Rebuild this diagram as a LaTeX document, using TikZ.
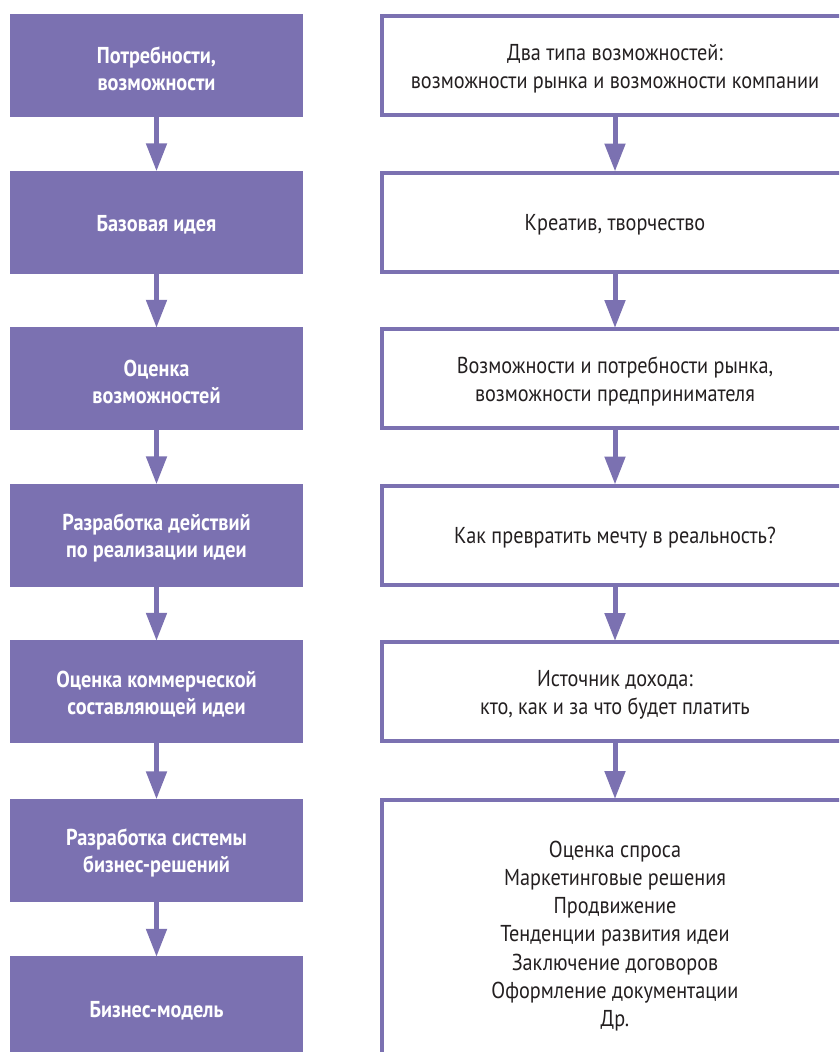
\documentclass[tikz,border=0pt]{standalone}
\usepackage{fontspec}
\setmainfont[FakeStretch=0.88]{PT Sans}
\usetikzlibrary{arrows.meta}
\definecolor{lilac}{RGB}{123,113,177}
\definecolor{ink}{RGB}{35,31,32}
\tikzset{
  leftbox/.style={fill=lilac, minimum width=293pt, minimum height=103pt, inner sep=0pt},
  lefttext/.style={text=white, font=\bfseries\fontsize{23}{27}\selectfont, align=center, inner sep=0pt, yshift=-3pt},
  rightbox/.style={draw=lilac, line width=4pt, minimum width=466pt, minimum height=99pt, inner sep=0pt},
  righttext/.style={text=ink, font=\fontsize{23}{28}\selectfont, align=center, inner sep=0pt, yshift=-3pt},
  flow/.style={draw=lilac, line width=5pt, -{Triangle[width=20pt,length=28pt,fill=lilac]}, shorten >=-1pt}
}
\begin{document}
\begin{tikzpicture}[x=1pt,y=-1pt]
\useasboundingbox (0,0) rectangle (839,1052);
\clip (0,0) rectangle (839,1052);
% left column
\node[leftbox] (l1) at (156.5,65.5) {};
\node[leftbox] (l2) at (156.5,222) {};
\node[leftbox] (l3) at (156.5,378.5) {};
\node[leftbox] (l4) at (156.5,535) {};
\node[leftbox] (l5) at (156.5,691.5) {};
\node[leftbox] (l6) at (156.5,850) {};
\node[leftbox, minimum height=120pt] (l7) at (156.5,1016) {};
\node[lefttext] (l1t) at (l1.center) {Потребности,\\возможности};
\node[lefttext] (l2t) at (l2.center) {Базовая идея};
\node[lefttext] (l3t) at (l3.center) {Оценка\\возможностей};
\node[lefttext] (l4t) at (l4.center) {Разработка действий\\по реализации идеи};
\node[lefttext] (l5t) at (l5.center) {Оценка коммерческой\\составляющей идеи};
\node[lefttext] (l6t) at (l6.center) {Разработка системы\\бизнес-решений};
\node[lefttext] (l7t) at (156.5,1008) {Бизнес-модель};
% right column
\node[rightbox] (r1) at (615,65.5) {};
\node[rightbox] (r2) at (615,222) {};
\node[rightbox] (r3) at (615,378.5) {};
\node[rightbox] (r4) at (615,535) {};
\node[rightbox] (r5) at (615,691.5) {};
\node[rightbox, minimum height=300pt] (r6) at (615,950) {};
\node[righttext] (r1t) at (r1.center) {Два типа возможностей:\\возможности рынка и возможности компании};
\node[righttext] (r2t) at (r2.center) {Креатив, творчество};
\node[righttext] (r3t) at (r3.center) {Возможности и потребности рынка,\\возможности предпринимателя};
\node[righttext] (r4t) at (r4.center) {Как превратить мечту в реальность?};
\node[righttext] (r5t) at (r5.center) {Источник дохода:\\кто, как и за что будет платить};
\node[righttext, font=\fontsize{23}{28.3}\selectfont] (r6t) at (615,933)
  {Оценка спроса\\Маркетинговые решения\\Продвижение\\Тенденции развития идеи\\Заключение договоров\\Оформление документации\\Др.};
% arrows
\draw[flow] (l1.south) -- (l2.north);
\draw[flow] (l2.south) -- (l3.north);
\draw[flow] (l3.south) -- (l4.north);
\draw[flow] (l4.south) -- (l5.north);
\draw[flow] (l5.south) -- (l6.north);
\draw[flow] (l6.south) -- (l7.north);
\draw[flow] (r1.south) -- (r2.north);
\draw[flow] (r2.south) -- (r3.north);
\draw[flow] (r3.south) -- (r4.north);
\draw[flow] (r4.south) -- (r5.north);
\draw[flow] (r5.south) -- (r6.north);
\end{tikzpicture}
\end{document}
